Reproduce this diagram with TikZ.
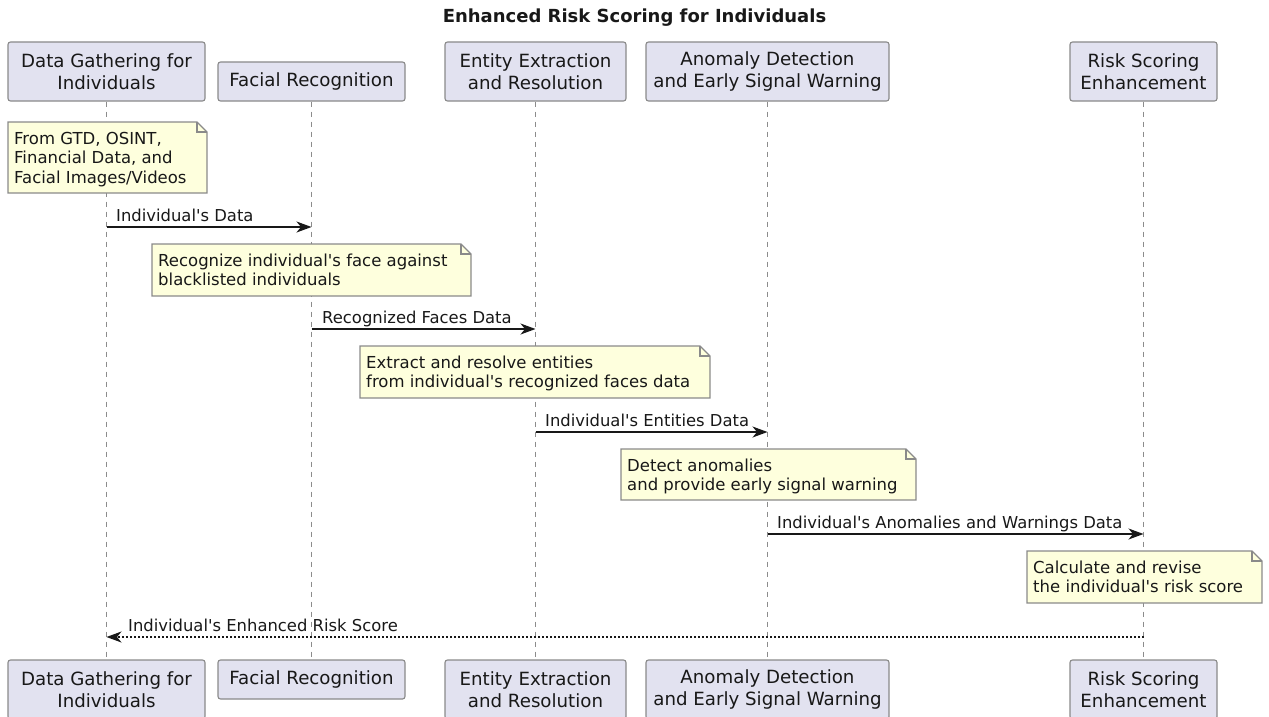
\documentclass[tikz,border=0pt]{standalone}
\usepackage{fontspec}
\newfontfamily\dejavu{DejaVu Sans}
\usetikzlibrary{arrows.meta}
\definecolor{partfill}{HTML}{E2E2F0}
\definecolor{notefill}{HTML}{FEFFDD}
\definecolor{edge}{HTML}{8A8A8A}
\definecolor{ink}{HTML}{181818}
\definecolor{lifegray}{HTML}{8C8C8C}

% a note with a folded top-right corner: name, left, top, right, bottom, text
\newcommand\notecard[6]{%
  \draw[noteshape] (#2,#3) -- (#4-10,#3) -- (#4,#3+10) -- (#4,#5) -- (#2,#5) -- cycle;
  \draw[noteshape, fill=none] (#4-10,#3) -- (#4-10,#3+10) -- (#4,#3+10);
  \node[notetext] (#1) at (#2+6,#3+8.4) {\strut#6};%
}

\begin{document}
\begin{tikzpicture}[x=1pt,y=-1pt,
  part/.style={draw=edge, fill=partfill, rounded corners=2.5pt, line width=1.1pt,
    text=ink, font=\dejavu\fontsize{18.2}{21.5}\selectfont, align=center, inner sep=0pt},
  tallpart/.style={part, minimum height=59pt},
  shortpart/.style={part, minimum height=39pt},
  lifeline/.style={draw=lifegray, dash pattern=on 5pt off 5pt, line width=0.9pt},
  msg/.style={draw=ink, line width=1.2pt, -{Stealth[length=15pt,width=11pt,inset=4.5pt]}},
  reply/.style={msg, dash pattern=on 2pt off 2pt},
  msglabel/.style={font=\dejavu\fontsize{16.4}{19.5}\selectfont, text=ink, anchor=base west, inner sep=0pt},
  notetext/.style={font=\dejavu\fontsize{16.5}{19.5}\selectfont, text=ink, align=left, anchor=north west, inner sep=0pt},
  noteshape/.style={draw=edge, fill=notefill, line width=1.1pt, line join=miter},
  titletext/.style={font=\dejavu\fontsize{18}{21}\bfseries, text=ink, anchor=base, inner sep=0pt},
]
\useasboundingbox (0,0) rectangle (1269,717);

\node[titletext] (title) at (634.5,23) {Enhanced Risk Scoring for Individuals};

% participants, top row
\node[tallpart, minimum width=197pt] (dg) at (106.5,71.5) {Data Gathering for\\Individuals};
\node[shortpart, minimum width=187pt] (fr) at (311.5,81.5) {Facial Recognition};
\node[tallpart, minimum width=181pt] (ee) at (535.5,71.5) {Entity Extraction\\and Resolution};
\node[tallpart, minimum width=243pt] (ad) at (767.5,71.5) {Anomaly Detection\\and Early Signal Warning};
\node[tallpart, minimum width=147pt] (rs) at (1143.5,71.5) {Risk Scoring\\Enhancement};

% participants, bottom row
\node[tallpart, minimum width=197pt] (dgb) at (106.5,689.5) {Data Gathering for\\Individuals};
\node[shortpart, minimum width=187pt] (frb) at (311.5,679.5) {Facial Recognition};
\node[tallpart, minimum width=181pt] (eeb) at (535.5,689.5) {Entity Extraction\\and Resolution};
\node[tallpart, minimum width=243pt] (adb) at (767.5,689.5) {Anomaly Detection\\and Early Signal Warning};
\node[tallpart, minimum width=147pt] (rsb) at (1143.5,689.5) {Risk Scoring\\Enhancement};

% lifelines
\draw[lifeline] (dg.south) -- (dgb.north);
\draw[lifeline] (fr.south) -- (frb.north);
\draw[lifeline] (ee.south) -- (eeb.north);
\draw[lifeline] (ad.south) -- (adb.north);
\draw[lifeline] (rs.south) -- (rsb.north);

% notes and messages
\notecard{n1}{8}{122}{207}{193}{From GTD, OSINT,\\Financial Data, and\\Facial Images/Videos}

\draw[msg] (dg.south |- 0,227) -- (fr.south |- 0,227);
\node[msglabel] (l1) at (116,221) {Individual's Data};

\notecard{n2}{152}{244}{471}{296}{Recognize individual's face against\\blacklisted individuals}

\draw[msg] (fr.south |- 0,329) -- (ee.south |- 0,329);
\node[msglabel] (l2) at (322,323) {Recognized Faces Data};

\notecard{n3}{360}{346}{710}{398}{Extract and resolve entities\\from individual's recognized faces data}

\draw[msg] (ee.south |- 0,432) -- (ad.south |- 0,432);
\node[msglabel] (l3) at (545,426) {Individual's Entities Data};

\notecard{n4}{621}{449}{916}{500}{Detect anomalies\\and provide early signal warning}

\draw[msg] (ad.south |- 0,534) -- (rs.south |- 0,534);
\node[msglabel] (l4) at (777,528) {Individual's Anomalies and Warnings Data};

\notecard{n5}{1027}{551}{1262}{603}{Calculate and revise\\the individual's risk score}

\draw[reply] (rs.south |- 0,637) -- (dg.south |- 0,637);
\node[msglabel] (l5) at (128,631) {Individual's Enhanced Risk Score};

\end{tikzpicture}
\end{document}
